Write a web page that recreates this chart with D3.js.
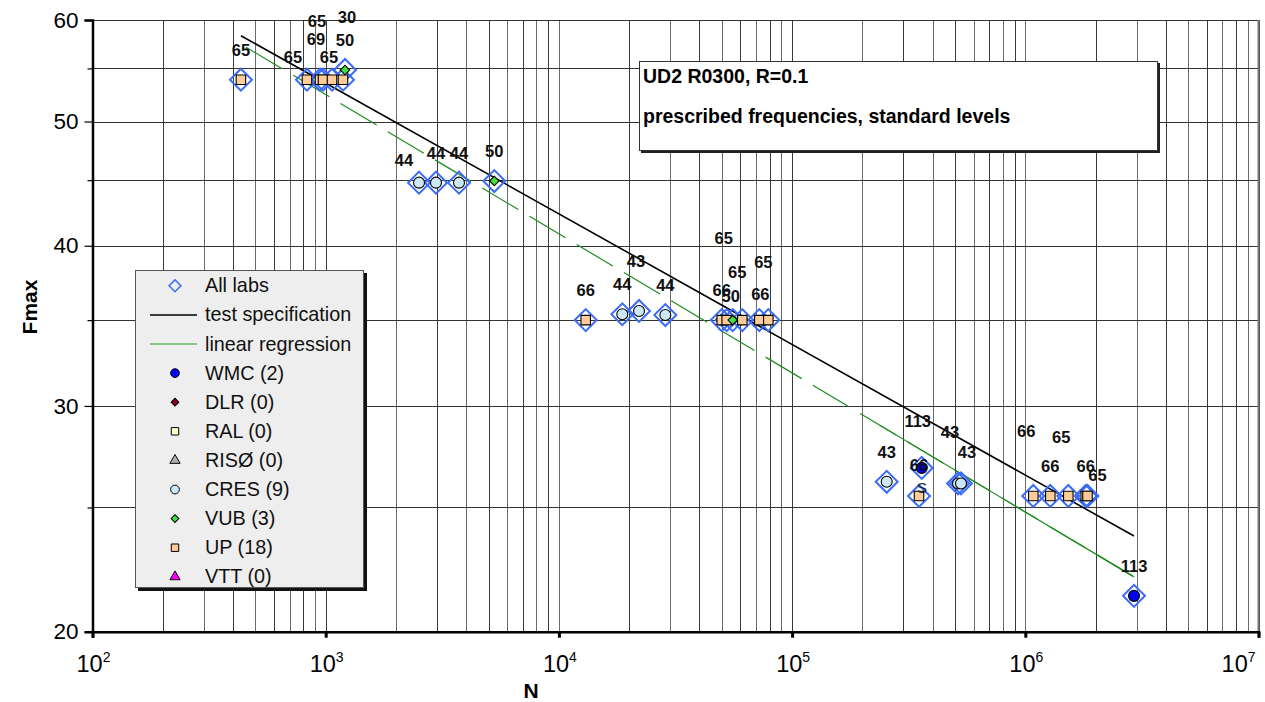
<!DOCTYPE html>
<html>
<head>
<meta charset="utf-8">
<script src="https://cdn.jsdelivr.net/npm/d3@7"></script>
<style>
  body { margin: 0; background: #fff; }
  svg { display: block; font-family: "Liberation Sans", Arial, sans-serif; }
</style>
</head>
<body>
<script>

// ---- data ----
var labs = ["UP","UP","UP","UP","UP","UP","VUB",
            "CRES","CRES","CRES","VUB",
            "UP","CRES","CRES","CRES","UP","UP","VUB","UP","UP","UP",
            "CRES","WMC","UP","CRES","CRES","UP","UP","UP","UP","UP","WMC"];
var cycles = [433, 831, 945, 974, 1064, 1186, 1210,
              2513, 2972, 3729, 5284,
              13030, 18700, 22060, 28600, 49910, 52430, 55640, 61160, 72340, 79070,
              254500, 359500, 350100, 514500, 530000, 1082000, 1280000, 1529000, 1816000, 1848000, 2925000];
var fmax = [53.9, 53.9, 53.9, 53.9, 53.9, 53.9, 54.85,
            44.8, 44.8, 44.8, 44.93,
            35.0, 35.37, 35.58, 35.32, 35.0, 35.0, 35.0, 35.0, 35.0, 35.0,
            26.18, 26.84, 25.52, 26.10, 26.10, 25.52, 25.52, 25.52, 25.52, 25.52, 21.33];
var freqLabels = ["65","65","65","69","65","30","50",
                  "44","44","44","50",
                  "66","44","43","44","66","65","50","65","66","65",
                  "43","113","66","43","43","66","66","65","66","65","113"];

var specN = [433, 2925000];
var specF = [58.33, 23.75];
var regN = [433, 2925000];
var regF = [57.46, 22.07];

var xTickValues = [1e2, 1e3, 1e4, 1e5, 1e6, 1e7];
var xTickExp = ["2", "3", "4", "5", "6", "7"];
var yTickValues = [20, 25, 30, 35, 40, 45, 50, 55, 60];

var legendNames = ["All labs", "test specification", "linear regression",
                   "WMC (2)", "DLR (0)", "RAL (0)", "RIS\u00D8 (0)", "CRES (9)", "VUB (3)", "UP (18)", "VTT (0)"];
var titleLines = ["UD2 R0300, R=0.1", "prescribed frequencies, standard levels"];

// ---- layout ----
var width = 1265, height = 702;
var plotLeft = 92.5, plotRight = 1258.5, plotTop = 20, plotBottom = 631.7;

// label offsets from each point (px), tuned to the picture
var labelShift = [[0,-30],[-14,-23],[-3,-59],[-7,-41],[-3,-23],[4,-63],[0,-30],
                  [-15,-23],[0,-30],[0,-30],[0,-30],
                  [0,-30],[0,-30],[-3,-50],[0,-30],[0,-30],[-3,-82],[-2,-24],[-5,-48],[1,-26],[-5,-58],
                  [0,-30],[-4,-47],[0,-31],[-8,-51],[6,-31],[-7,-65],[0,-30],[-7,-59],[0,-30],[10,-21],[0,-30]];

var markerStyle = {
  "All labs": {shape: "diamond", fill: "none", stroke: "#3b6cf5"},
  "WMC":  {shape: "circle",  fill: "#0000f0", stroke: "#000"},
  "DLR":  {shape: "diamond", fill: "#8b0020", stroke: "#000"},
  "RAL":  {shape: "square",  fill: "#ffffcc", stroke: "#000"},
  "RISØ": {shape: "triangle",fill: "#b0b0b0", stroke: "#000"},
  "CRES": {shape: "circle",  fill: "#cce8f7", stroke: "#000"},
  "VUB":  {shape: "diamond", fill: "#44dd44", stroke: "#000"},
  "UP":   {shape: "square",  fill: "#ffcc99", stroke: "#000"},
  "VTT":  {shape: "triangle",fill: "#ff00ff", stroke: "#000"}
};

var x = d3.scaleLog().domain([1e2, 1e7]).range([plotLeft, plotRight]);
var y = d3.scaleLog().domain([20, 60]).range([plotBottom, plotTop]);

var svg = d3.select("body").append("svg")
    .attr("width", width)
    .attr("height", height);

// ---- grid ----
var xGrid = [];
for (var d = 2; d < 7; d++) {
  for (var k = 1; k < 10; k++) xGrid.push(k * Math.pow(10, d));
}
xGrid.push(1e7);

var grid = svg.append("g");
grid.selectAll(".vx").data(xGrid).enter().append("line")
    .attr("x1", function (d) { return Math.round(x(d)) + 0.5; })
    .attr("x2", function (d) { return Math.round(x(d)) + 0.5; })
    .attr("y1", plotTop).attr("y2", plotBottom)
    .attr("stroke", function (d, i) { return i % 2 ? "#3a3a3a" : "#6a6a6a"; })
    .attr("stroke-width", 1);
grid.selectAll(".hy").data(yTickValues).enter().append("line")
    .attr("x1", plotLeft).attr("x2", plotRight)
    .attr("y1", function (d) { return Math.round(y(d)) + 0.5; })
    .attr("y2", function (d) { return Math.round(y(d)) + 0.5; })
    .attr("stroke", "#333")
    .attr("stroke-width", 1);
grid.append("line")
    .attr("x1", plotRight).attr("x2", plotRight).attr("y1", plotTop).attr("y2", plotBottom)
    .attr("stroke", "#777").attr("stroke-width", 2);

// ---- title box ----
svg.append("rect").attr("x", 641).attr("y", 63).attr("width", 519).attr("height", 90).attr("fill", "#222");
svg.append("rect").attr("x", 639.5).attr("y", 61.5).attr("width", 518).attr("height", 89)
    .attr("fill", "#fff").attr("stroke", "#333").attr("stroke-width", 1);
svg.selectAll(".title").data(titleLines).enter().append("text")
    .attr("x", 643)
    .attr("y", function (d, i) { return 83 + i * 40; })
    .attr("font-size", 19.5)
    .attr("font-weight", "bold")
    .text(function (d) { return d; });

// ---- lines ----
var line = d3.line()
    .x(function (d) { return x(d[0]); })
    .y(function (d) { return y(d[1]); });

svg.append("clipPath").attr("id", "solidpart")
  .append("rect").attr("x", 880).attr("y", 0).attr("width", 400).attr("height", height);

var regPts = d3.zip(regN, regF);
svg.append("path").datum(regPts)
    .attr("d", line).attr("fill", "none")
    .attr("stroke", "#1e8c1e").attr("stroke-width", 1.2)
    .attr("stroke-dasharray", "42,13")
    .attr("stroke-dashoffset", -6);
svg.append("path").datum(regPts)
    .attr("d", line).attr("fill", "none")
    .attr("clip-path", "url(#solidpart)")
    .attr("stroke", "#1e8c1e").attr("stroke-width", 1.2);

svg.append("path").datum(d3.zip(specN, specF))
    .attr("d", line).attr("fill", "none")
    .attr("stroke", "#000").attr("stroke-width", 1.6);

// ---- markers ----
function symbolPath(shape, size) {
  if (shape == "circle") return d3.symbol(d3.symbolCircle, size)();
  if (shape == "triangle") return d3.symbol(d3.symbolTriangle, size)();
  return d3.symbol(d3.symbolSquare, size)();
}
function symbolRotate(shape) {
  return shape == "diamond" ? " rotate(45)" : "";
}

var points = d3.range(cycles.length).map(function (i) {
  return {lab: labs[i], n: cycles[i], f: fmax[i], label: freqLabels[i], shift: labelShift[i]};
});

svg.append("g").selectAll("path").data(points).enter().append("path")
    .attr("d", d3.symbol(d3.symbolSquare, 240)())
    .attr("transform", function (d) { return "translate(" + x(d.n) + "," + y(d.f) + ") rotate(45)"; })
    .attr("fill", "none")
    .attr("stroke", markerStyle["All labs"].stroke)
    .attr("stroke-width", 2);

svg.append("g").selectAll("path").data(points).enter().append("path")
    .attr("d", function (d) {
      var s = markerStyle[d.lab];
      return symbolPath(s.shape, s.shape == "diamond" ? 45 : (s.shape == "circle" ? 95 : 90));
    })
    .attr("transform", function (d) {
      return "translate(" + x(d.n) + "," + y(d.f) + ")" + symbolRotate(markerStyle[d.lab].shape);
    })
    .attr("fill", function (d) { return markerStyle[d.lab].fill; })
    .attr("stroke", "#000")
    .attr("stroke-width", 1.1);

svg.append("g").selectAll("text").data(points).enter().append("text")
    .attr("x", function (d) { return x(d.n) + d.shift[0]; })
    .attr("y", function (d) { return y(d.f) + d.shift[1]; })
    .attr("dy", "0.36em")
    .attr("text-anchor", "middle")
    .attr("font-size", 16.5)
    .attr("font-weight", "bold")
    .attr("fill", "#111")
    .text(function (d) { return d.label; });

// stray label fragment next to the UP point at ~3.5e5
svg.append("text")
    .attr("x", x(cycles[23]) + 3).attr("y", y(fmax[23]) - 8)
    .attr("dy", "0.36em").attr("text-anchor", "middle")
    .attr("font-size", 15).attr("fill", "#222")
    .text("S");

// ---- axes ----
var yAxis = d3.axisLeft(y)
    .tickValues(yTickValues)
    .tickFormat(function (d) { return d % 10 == 0 ? d : ""; })
    .tickSize(8)
    .tickPadding(6);
var gy = svg.append("g").attr("transform", "translate(" + plotLeft + ",0)").call(yAxis);
gy.select(".domain").attr("stroke", "#000").attr("stroke-width", 2.5);
gy.selectAll(".tick line").attr("stroke", "#000").attr("stroke-width", 1.2)
    .attr("x2", function (d) { return d % 10 == 0 ? -8 : -5; });
gy.selectAll(".tick text").attr("font-size", 22.5).attr("font-family", "Liberation Sans, Arial, sans-serif").attr("fill", "#000");

var xAxis = d3.axisBottom(x).tickValues(xTickValues).tickFormat("").tickSize(6);
var gx = svg.append("g").attr("transform", "translate(0," + plotBottom + ")").call(xAxis);
gx.select(".domain").attr("stroke", "#000").attr("stroke-width", 2.5);
gx.selectAll(".tick line").attr("stroke", "#000").attr("stroke-width", 3);

var xl = svg.append("g").selectAll("text").data(xTickValues).enter().append("text")
    .attr("x", function (d, i) { return i == xTickValues.length - 1 ? x(d) - 3 : x(d) + 1; })
    .attr("y", 671.5)
    .attr("text-anchor", function (d, i) { return i == xTickValues.length - 1 ? "end" : "middle"; })
    .attr("font-size", 23.5);
xl.append("tspan").text("10");
xl.append("tspan").attr("dy", -10).attr("font-size", 14)
    .text(function (d, i) { return xTickExp[i]; });

svg.append("text").attr("x", 531).attr("y", 698)
    .attr("text-anchor", "middle").attr("font-size", 21).attr("font-weight", "bold")
    .text("N");
svg.append("text")
    .attr("transform", "translate(37,307) rotate(-90)")
    .attr("text-anchor", "middle").attr("font-size", 21).attr("font-weight", "bold")
    .text("Fmax");

// ---- legend ----
var lg = svg.append("g");
lg.append("rect").attr("x", 138).attr("y", 273).attr("width", 229).attr("height", 318).attr("fill", "#111");
lg.append("rect").attr("x", 135.5).attr("y", 270.5).attr("width", 228).attr("height", 317)
    .attr("fill", "#eeeeee").attr("stroke", "#555").attr("stroke-width", 1);

var legendKeys = ["All labs", "test", "reg", "WMC", "DLR", "RAL", "RISØ", "CRES", "VUB", "UP", "VTT"];
var rows = lg.selectAll(".row").data(legendNames).enter().append("g")
    .attr("transform", function (d, i) { return "translate(0," + (292.3 + i * 29.1) + ")"; });
rows.append("text").attr("x", 205).attr("y", 0)
    .attr("font-size", 19.8).attr("fill", "#111")
    .text(function (d) { return d; });
rows.each(function (d, i) {
  var g = d3.select(this);
  var key = legendKeys[i];
  if (key == "test" || key == "reg") {
    g.append("line").attr("x1", 150).attr("x2", 197).attr("y1", -6.5).attr("y2", -6.5)
      .attr("stroke", key == "test" ? "#000" : "#2a9a2a").attr("stroke-width", key == "test" ? 1.5 : 1);
    return;
  }
  var s = markerStyle[key];
  if (key == "All labs") {
    g.append("path").attr("d", d3.symbol(d3.symbolSquare, 70)())
      .attr("transform", "translate(175,-6.5) rotate(45)")
      .attr("fill", "none").attr("stroke", s.stroke).attr("stroke-width", 1.5);
    return;
  }
  var size = s.shape == "diamond" ? 30 : (s.shape == "circle" ? 60 : (s.shape == "triangle" ? 45 : 55));
  g.append("path").attr("d", symbolPath(s.shape, size))
    .attr("transform", "translate(175,-6.5)" + symbolRotate(s.shape))
    .attr("fill", s.fill).attr("stroke", "#000").attr("stroke-width", 1);
});

</script>
</body>
</html>
